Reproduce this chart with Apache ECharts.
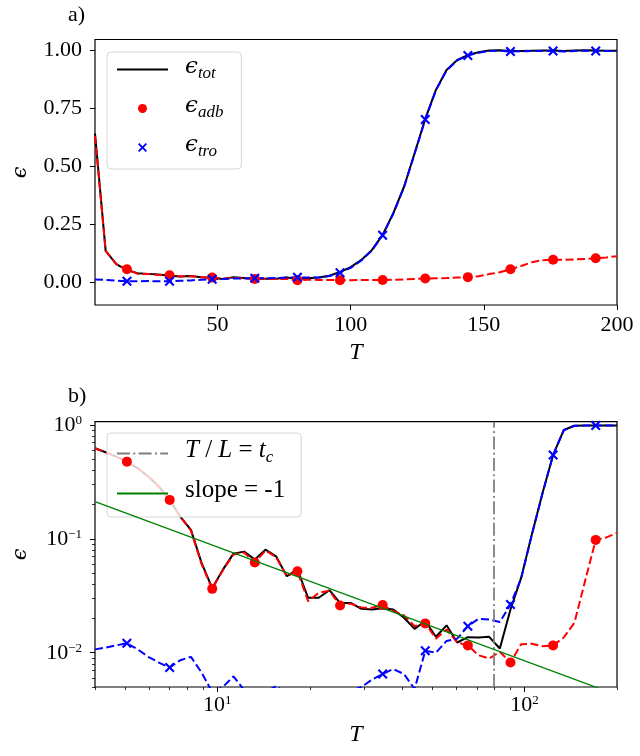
<!DOCTYPE html>
<html lang="en">
<head>
<meta charset="UTF-8">
<title>Error vs T</title>
<script src="https://cdn.jsdelivr.net/npm/echarts@6/dist/echarts.min.js"></script>
<style>html,body{margin:0;background:#fff;}</style>
</head>
<body>
<div id="chart" style="width:640px;height:756px;"></div>
<script>
// panel a) : linear grid of T
var tLin = [4, 8, 12, 16, 20, 24, 28, 32, 36, 40, 44, 48, 52, 56, 60, 64, 68, 72, 76, 80,
  84, 88, 92, 96, 100, 104, 108, 112, 116, 120, 124, 128, 132, 136, 140, 144, 148, 152, 156, 160,
  164, 168, 172, 176, 180, 184, 188, 192, 196, 200];
var totLin = [0.64, 0.135, 0.078, 0.052, 0.039, 0.036, 0.033, 0.028, 0.025, 0.027,
  0.021, 0.019, 0.014, 0.021, 0.018, 0.017, 0.015, 0.015, 0.020, 0.014,
  0.017, 0.020, 0.028, 0.044, 0.065, 0.096, 0.139, 0.204, 0.297, 0.410,
  0.555, 0.703, 0.828, 0.914, 0.957, 0.978, 0.990, 0.998, 0.999, 0.995,
  0.996, 0.997, 0.998, 0.998, 0.995, 0.998, 0.999, 0.998, 0.997, 0.997];
var adbLin = [0.63, 0.135, 0.078, 0.056, 0.036, 0.035, 0.031, 0.030, 0.025, 0.026,
  0.021, 0.020, 0.015, 0.020, 0.017, 0.014, 0.014, 0.014, 0.015, 0.009,
  0.011, 0.010, 0.010, 0.009, 0.009, 0.010, 0.010, 0.010, 0.011, 0.012,
  0.014, 0.016, 0.017, 0.018, 0.020, 0.022, 0.026, 0.035, 0.043, 0.056,
  0.070, 0.086, 0.095, 0.097, 0.097, 0.098, 0.100, 0.103, 0.107, 0.112];
var troLin = [0.012, 0.010, 0.007, 0.004, 0.004, 0.005, 0.004, 0.004, 0.006, 0.008,
  0.011, 0.013, 0.014, 0.016, 0.016, 0.017, 0.017, 0.018, 0.020, 0.021,
  0.020, 0.020, 0.027, 0.041, 0.062, 0.094, 0.137, 0.202, 0.295, 0.408,
  0.553, 0.701, 0.826, 0.912, 0.955, 0.976, 0.988, 0.996, 0.997, 0.993,
  0.994, 0.995, 0.996, 0.996, 0.993, 0.996, 0.997, 0.996, 0.995, 0.995];

// panel b) : log-spaced grid of T
var tLog = [4.00, 4.33, 4.69, 5.08, 5.51, 5.96, 6.46, 7.00, 7.58, 8.21,
  8.89, 9.63, 10.43, 11.29, 12.23, 13.25, 14.35, 15.54, 16.84, 18.24,
  19.75, 21.39, 23.17, 25.10, 27.18, 29.44, 31.89, 34.54, 37.41, 40.52,
  43.88, 47.53, 51.48, 55.76, 60.39, 65.41, 70.85, 76.74, 83.12, 90.02,
  97.50, 105.6, 114.4, 123.9, 134.2, 145.3, 157.4, 170.5, 184.7, 200.0];
var totLog = [0.625, 0.577, 0.528, 0.477, 0.417, 0.353, 0.288, 0.220, 0.157, 0.120,
  0.0615, 0.037, 0.0537, 0.0742, 0.0773, 0.0658, 0.0804, 0.0703, 0.047, 0.0537,
  0.0304, 0.0304, 0.0354, 0.0274, 0.0274, 0.0243, 0.024, 0.0246, 0.024, 0.0203,
  0.0162, 0.019, 0.0138, 0.0174, 0.0123, 0.0137, 0.0136, 0.0138, 0.0109, 0.024,
  0.0454, 0.109, 0.252, 0.546, 0.904, 0.986, 0.990, 0.990, 0.993, 0.993];
var adbLog = [0.625, 0.577, 0.528, 0.477, 0.417, 0.353, 0.288, 0.220, 0.157, 0.118,
  0.060, 0.0364, 0.053, 0.073, 0.076, 0.062, 0.079, 0.069, 0.047, 0.052,
  0.0284, 0.0336, 0.035, 0.026, 0.027, 0.025, 0.0248, 0.0262, 0.0232, 0.0213,
  0.0171, 0.0181, 0.0133, 0.016, 0.0123, 0.0116, 0.0095, 0.0089, 0.0102, 0.0082,
  0.0119, 0.012, 0.0114, 0.0116, 0.0136, 0.0183, 0.0425, 0.098, 0.103, 0.113];
var troLog = [0.0107, 0.0111, 0.0116, 0.0121, 0.0107, 0.0092, 0.0082, 0.0074, 0.0086, 0.0092,
  0.0067, 0.0045, 0.0050, 0.0062, 0.0047, 0.0042, 0.0045, 0.0051, 0.0044, 0.0040,
  0.0038, 0.0037, 0.0040, 0.0043, 0.0046, 0.0050, 0.0058, 0.0065, 0.0072, 0.0065,
  0.0048, 0.0104, 0.0100, 0.0127, 0.0133, 0.0171, 0.0199, 0.0196, 0.0186, 0.0265,
  0.0450, 0.108, 0.250, 0.546, 0.900, 0.985, 0.989, 0.990, 0.992, 0.992];

var tCrit = 80;                 // T / L = t_c
var slopeT = [4, 200];          // slope = -1 guide
var slopeE = [0.2125, 0.00425];

// ticks
var ticksAx = [50, 100, 150, 200];
var ticksAy = [0, 0.25, 0.5, 0.75, 1];
var decX = [1, 2];
var decY = [-2, -1, 0];
var minorX = [4, 5, 6, 7, 8, 9, 20, 30, 40, 50, 60, 70, 80, 90, 200];
var minorY = [0.005, 0.006, 0.007, 0.008, 0.009, 0.02, 0.03, 0.04, 0.05, 0.06, 0.07, 0.08, 0.09,
  0.2, 0.3, 0.4, 0.5, 0.6, 0.7, 0.8, 0.9];

var FONT = 'Liberation Serif, DejaVu Serif, serif';
var EPS = '\u03f5';
var lg = Math.log10;

function pairs(t, v, log) {
  return t.map(function (x, i) { return log ? [lg(x), lg(v[i])] : [x, v[i]]; });
}
// markers sit on every 4th sample
function every4(arr) {
  return arr.filter(function (d, i) { return i % 4 === 3; });
}
function powLabel(v) {
  var n = Math.round(v);
  return '{b|10}{p|' + (n < 0 ? '\u2212' + (-n) : n) + '}';
}

var xMark = 'path://M0,1.5L1.5,0L5,3.5L8.5,0L10,1.5L6.5,5L10,8.5L8.5,10L5,6.5L1.5,10L0,8.5L3.5,5Z';
var dash = [8, 3.5];

var powRich = {
  b: { fontFamily: FONT, fontSize: 22, color: '#000', lineHeight: 22, padding: [2, 0, 0, 0], verticalAlign: 'bottom' },
  p: { fontFamily: FONT, fontSize: 13, color: '#000', lineHeight: 15, verticalAlign: 'top' }
};
var legRich = {
  e: { fontFamily: 'DejaVu Serif, serif', fontSize: 23, fontStyle: 'italic', color: '#000', lineHeight: 25, padding: [0, 0, 3, 0], verticalAlign: 'bottom' },
  s: { fontFamily: FONT, fontSize: 17, fontStyle: 'italic', color: '#000', lineHeight: 17, verticalAlign: 'bottom' },
  i: { fontFamily: FONT, fontSize: 25, fontStyle: 'italic', color: '#000', lineHeight: 25, padding: [0, 0, 3, 0], verticalAlign: 'bottom' },
  r: { fontFamily: FONT, fontSize: 25, color: '#000', lineHeight: 25, padding: [0, 0, 3, 0], verticalAlign: 'bottom' }
};
var legNames = {
  tot: '{e|' + EPS + '}{s|tot}',
  adb: '{e|' + EPS + '}{s|adb}',
  tro: '{e|' + EPS + '}{s|tro}',
  tc: '{i|T}{r| / }{i|L}{r| = }{i|t}{s|c}',
  slope: '{r|slope = -1}'
};

var tick = { show: true, length: 5, lineStyle: { color: '#000', width: 1 } };
var minorTick = { show: true, inside: true, length: 3, lineStyle: { color: '#000', width: 0.8 } };
var lab = { color: '#000', fontFamily: FONT, fontSize: 22 };
var noLine = { show: false, onZero: false };
var nameStyle = { fontFamily: FONT, fontStyle: 'italic', fontSize: 24, color: '#000' };
var epsStyle = { fontFamily: 'DejaVu Serif, serif', fontStyle: 'italic', fontSize: 21, color: '#000' };
var legBox = { borderColor: '#d5d5d5', borderWidth: 1, borderRadius: 4, backgroundColor: 'rgba(255,255,255,0.8)' };

var gridB = { left: 95, top: 421.7, width: 522, height: 265.3 };

var myChart = echarts.init(document.getElementById('chart'));
var option = {
  animation: false,
  backgroundColor: '#fff',
  grid: [
    { left: 95, top: 39.5, width: 522, height: 265.5, show: true, borderColor: '#000', borderWidth: 1.2, backgroundColor: 'transparent' },
    Object.assign({ show: true, borderColor: '#000', borderWidth: 1.2, backgroundColor: 'transparent' }, gridB)
  ],
  xAxis: [
    { gridIndex: 0, type: 'value', position: 'bottom', min: 4, max: 200, splitLine: { show: false }, axisLine: noLine,
      axisTick: Object.assign({ customValues: ticksAx }, tick),
      axisLabel: Object.assign({ customValues: ticksAx, margin: 9 }, lab),
      name: 'T', nameLocation: 'middle', nameGap: 36, nameTextStyle: nameStyle },
    { gridIndex: 1, type: 'value', position: 'bottom', min: lg(4), max: lg(200), splitLine: { show: false }, axisLine: noLine,
      axisTick: Object.assign({ customValues: decX }, tick),
      axisLabel: Object.assign({ customValues: decX, margin: 7, formatter: powLabel, rich: powRich }, lab),
      name: 'T', nameLocation: 'middle', nameGap: 36, nameTextStyle: nameStyle },
    // minor ticks: second x axis of the grid sits on top, shifted down to the bottom edge
    { gridIndex: 1, type: 'value', position: 'top', offset: -gridB.height, min: lg(4), max: lg(200), splitLine: { show: false }, axisLine: noLine,
      axisTick: Object.assign({ customValues: minorX.map(lg) }, minorTick),
      axisLabel: { show: false } }
  ],
  yAxis: [
    { gridIndex: 0, type: 'value', position: 'left', min: -0.098, max: 1.045, splitLine: { show: false }, axisLine: noLine,
      axisTick: Object.assign({ customValues: ticksAy }, tick),
      axisLabel: Object.assign({ customValues: ticksAy, margin: 13, formatter: function (v) { return v.toFixed(2); } }, lab),
      name: EPS, nameLocation: 'middle', nameRotate: 90, nameGap: 64, nameTextStyle: epsStyle },
    { gridIndex: 1, type: 'value', position: 'left', min: lg(0.005), max: lg(1.07), splitLine: { show: false }, axisLine: noLine,
      axisTick: Object.assign({ customValues: decY }, tick),
      axisLabel: Object.assign({ customValues: decY, margin: 13, formatter: powLabel, rich: powRich }, lab),
      name: EPS, nameLocation: 'middle', nameRotate: 90, nameGap: 64, nameTextStyle: epsStyle },
    // minor ticks: second y axis sits on the right, shifted back to the left edge
    { gridIndex: 1, type: 'value', position: 'right', offset: -gridB.width, min: lg(0.005), max: lg(1.07), splitLine: { show: false }, axisLine: noLine,
      axisTick: Object.assign({ customValues: minorY.map(lg) }, minorTick),
      axisLabel: { show: false } }
  ],
  legend: [
    Object.assign({ left: 107, top: 52, orient: 'vertical',
      data: [{ name: 'tot', itemStyle: { opacity: 0 } }, 'adb', 'tro'],
      itemWidth: 51, itemHeight: 9, itemGap: 13, padding: [4, 18, 9, 9],
      formatter: function (n) { return legNames[n]; }, textStyle: { rich: legRich, padding: [0, 0, 0, 12] } }, legBox),
    Object.assign({ left: 107, top: 433, orient: 'vertical',
      data: [{ name: 'tc', itemStyle: { opacity: 0 } }, { name: 'slope', itemStyle: { opacity: 0 } }],
      itemWidth: 51, itemHeight: 9, itemGap: 12, padding: [5, 16, 11, 9],
      formatter: function (n) { return legNames[n]; }, textStyle: { rich: legRich, padding: [0, 0, 0, 12] } }, legBox)
  ],
  graphic: [
    { type: 'text', left: 68, top: 4, style: { text: 'a)', fontFamily: FONT, fontSize: 22, fill: '#000' } },
    { type: 'text', left: 68, top: 385, style: { text: 'b)', fontFamily: FONT, fontSize: 22, fill: '#000' } }
  ],
  series: [
    // panel a)
    { name: 'tot', type: 'line', xAxisIndex: 0, yAxisIndex: 0, data: pairs(tLin, totLin), symbol: 'none', z: 2,
      lineStyle: { color: '#000', width: 2 }, itemStyle: { color: '#000' } },
    { name: 'adbLine', type: 'line', xAxisIndex: 0, yAxisIndex: 0, data: pairs(tLin, adbLin), symbol: 'none', z: 3,
      lineStyle: { color: '#ff0000', width: 2, type: dash } },
    { name: 'troLine', type: 'line', xAxisIndex: 0, yAxisIndex: 0, data: pairs(tLin, troLin), symbol: 'none', z: 4,
      lineStyle: { color: '#0000ff', width: 2, type: dash } },
    { name: 'adb', type: 'scatter', xAxisIndex: 0, yAxisIndex: 0, data: every4(pairs(tLin, adbLin)), symbol: 'circle', symbolSize: 10, z: 5,
      itemStyle: { color: '#ff0000', opacity: 1 } },
    { name: 'tro', type: 'scatter', xAxisIndex: 0, yAxisIndex: 0, data: every4(pairs(tLin, troLin)), symbol: xMark, symbolSize: 10, z: 6,
      itemStyle: { color: '#0000ff', opacity: 1 } },
    // panel b)
    { name: 'totB', type: 'line', xAxisIndex: 1, yAxisIndex: 1, data: pairs(tLog, totLog, true), symbol: 'none', z: 2,
      lineStyle: { color: '#000', width: 2 } },
    { name: 'adbLineB', type: 'line', xAxisIndex: 1, yAxisIndex: 1, data: pairs(tLog, adbLog, true), symbol: 'none', z: 3,
      lineStyle: { color: '#ff0000', width: 2, type: dash } },
    { name: 'troLineB', type: 'line', xAxisIndex: 1, yAxisIndex: 1, data: pairs(tLog, troLog, true), symbol: 'none', z: 4,
      lineStyle: { color: '#0000ff', width: 2, type: dash } },
    { name: 'adbB', type: 'scatter', xAxisIndex: 1, yAxisIndex: 1, data: every4(pairs(tLog, adbLog, true)), symbol: 'circle', symbolSize: 10, z: 5,
      itemStyle: { color: '#ff0000', opacity: 1 } },
    { name: 'troB', type: 'scatter', xAxisIndex: 1, yAxisIndex: 1, data: every4(pairs(tLog, troLog, true)), symbol: xMark, symbolSize: 10, z: 6,
      itemStyle: { color: '#0000ff', opacity: 1 } },
    { name: 'tc', type: 'line', xAxisIndex: 1, yAxisIndex: 1, data: [], symbol: 'none', z: 7,
      lineStyle: { color: '#808080', width: 1.8, type: [13, 3.3, 2, 3.3] }, itemStyle: { color: '#808080' },
      markLine: { silent: true, symbol: 'none', label: { show: false },
        lineStyle: { color: '#808080', width: 1.8, type: [13, 3.3, 2, 3.3] },
        data: [{ xAxis: lg(tCrit) }] } },
    { name: 'slope', type: 'line', xAxisIndex: 1, yAxisIndex: 1, data: pairs(slopeT, slopeE, true), symbol: 'none', z: 7,
      lineStyle: { color: '#008000', width: 1.3 }, itemStyle: { color: '#008000' } }
  ]
};
myChart.setOption(option);
</script>
</body>
</html>
